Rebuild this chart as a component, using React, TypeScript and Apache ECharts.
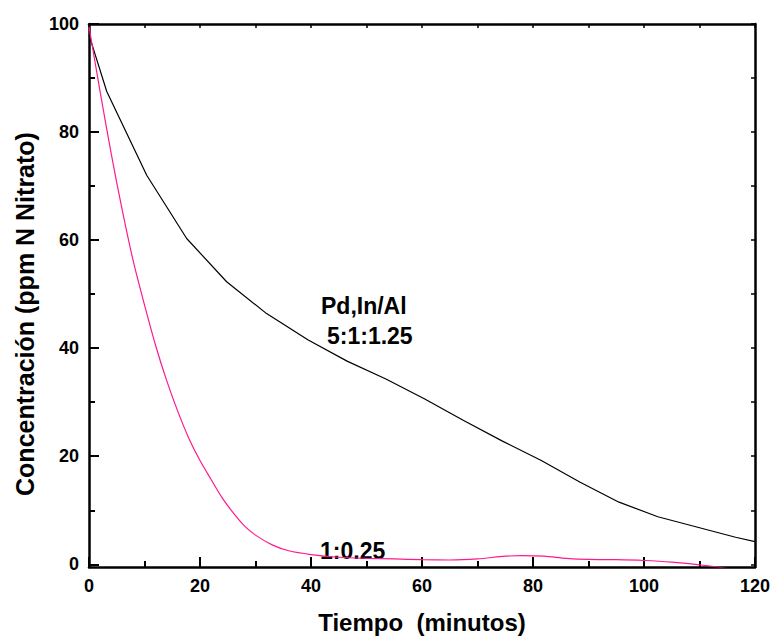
import React, { useEffect, useRef } from "react";
import * as echarts from "echarts";

// Pd,In/Al 5:1:1.25 (black)
const timeA = [0, 3.2, 10.4, 17.6, 24.8, 32, 39.5, 46.5, 53.5, 60.5, 67.5, 74.5, 81.5, 88.5, 95.5, 102.5, 109.5, 116.5, 120];
const concA = [98, 87.5, 72, 60.3, 52.3, 46.4, 41.5, 37.6, 34.3, 30.6, 26.6, 22.8, 19.2, 15.2, 11.5, 8.8, 6.9, 5.0, 4.2];

// 1:0.25 (pink)
const timeB = [0, 2, 4, 6, 8, 10, 12, 14, 16, 18, 20, 22, 24, 26, 28, 30, 33, 36, 40, 45, 50, 55, 60, 65, 70, 75, 78, 82, 86, 90, 95, 100, 105, 110, 114, 118, 120];
const concB = [99.5, 87.5, 76, 65.5, 56, 48, 40.5, 34, 28.3, 23.3, 19.2, 15.7, 12.3, 9.5, 7.1, 5.4, 3.6, 2.5, 1.8, 1.3, 1.1, 1.0, 0.85, 0.8, 1.0, 1.5, 1.6, 1.5, 1.1, 0.9, 0.85, 0.7, 0.4, -0.1, -0.6, -1.4, -1.9];

const yMajorTicks = [0, 20, 40, 60, 80, 100];
const yMinorTicks = [10, 30, 50, 70, 90];
const yAllTicks = [0, 10, 20, 30, 40, 50, 60, 70, 80, 90, 100];

const labelSeriesA1 = "Pd,In/Al";
const labelSeriesA2 = "5:1:1.25";
const labelSeriesB = "1:0.25";

const FONT = "Arial, 'Liberation Sans', Helvetica, sans-serif";

export default function App() {
  const ref = useRef<HTMLDivElement>(null);
  useEffect(() => {
    if (!ref.current) return;
    const chart = echarts.init(ref.current, undefined, { renderer: "svg" });
    const axisLine = { show: true, onZero: false, lineStyle: { color: "#000", width: 2.5 } };
    const option: any = {
      animation: false,
      backgroundColor: "#fff",
      grid: { left: 89, right: 18, top: 24, bottom: 73, containLabel: false },
      xAxis: [
        {
          type: "value",
          position: "bottom",
          min: 0,
          max: 120,
          interval: 20,
          axisLine,
          axisTick: { show: true, inside: true, length: 10, lineStyle: { color: "#000", width: 2 } },
          minorTick: { show: true, splitNumber: 2, length: 6, lineStyle: { color: "#000", width: 2 } },
          axisLabel: { color: "#000", fontSize: 18, fontWeight: "bold", fontFamily: FONT, margin: 10 },
          splitLine: { show: false },
          name: "Tiempo  (minutos)",
          nameLocation: "middle",
          nameGap: 43,
          nameTextStyle: { color: "#000", fontSize: 24, fontWeight: "bold", fontFamily: FONT },
        },
        {
          type: "value",
          position: "top",
          min: 0,
          max: 120,
          interval: 10,
          axisLine,
          axisTick: { show: true, inside: true, length: 4, lineStyle: { color: "#000", width: 1.5 } },
          axisLabel: { show: false },
          splitLine: { show: false },
        },
      ],
      yAxis: [
        {
          type: "value",
          position: "left",
          min: -0.5,
          max: 100,
          axisLine,
          axisTick: { show: true, inside: true, length: 10, customValues: yMajorTicks, lineStyle: { color: "#000", width: 2 } },
          axisLabel: { color: "#000", fontSize: 18, fontWeight: "bold", fontFamily: FONT, margin: 10, customValues: yMajorTicks },
          splitLine: { show: false },
        },
        {
          type: "value",
          position: "left",
          min: -0.5,
          max: 100,
          axisLine: { show: false, onZero: false },
          axisTick: { show: true, inside: true, length: 6, customValues: yMinorTicks, lineStyle: { color: "#000", width: 2 } },
          axisLabel: { show: false },
          splitLine: { show: false },
        },
        {
          type: "value",
          position: "right",
          min: -0.5,
          max: 100,
          axisLine,
          axisTick: { show: true, inside: true, length: 4, customValues: yAllTicks, lineStyle: { color: "#000", width: 1.5 } },
          axisLabel: { show: false },
          splitLine: { show: false },
        },
      ],
      series: [
        {
          type: "line",
          xAxisIndex: 0,
          yAxisIndex: 0,
          data: timeA.map((t, i) => [t, concA[i]]),
          showSymbol: false,
          symbol: "none",
          smooth: false,
          clip: true,
          lineStyle: { color: "#000", width: 1.2 },
        },
        {
          type: "line",
          xAxisIndex: 0,
          yAxisIndex: 0,
          data: timeB.map((t, i) => [t, concB[i]]),
          showSymbol: false,
          symbol: "none",
          smooth: 0.3,
          clip: true,
          lineStyle: { color: "#ff1a8c", width: 1.2 },
        },
      ],
      graphic: [
        {
          type: "text",
          x: 25,
          y: 314,
          rotation: Math.PI / 2,
          style: {
            text: "Concentración (ppm N Nitrato)",
            fill: "#000",
            font: `bold 25px ${FONT}`,
            align: "center",
            verticalAlign: "middle",
          },
        },
        {
          type: "text",
          x: 321,
          y: 306,
          style: { text: labelSeriesA1, fill: "#000", font: `bold 23px ${FONT}`, align: "left", verticalAlign: "middle" },
        },
        {
          type: "text",
          x: 327,
          y: 335.5,
          style: { text: labelSeriesA2, fill: "#000", font: `bold 23px ${FONT}`, align: "left", verticalAlign: "middle" },
        },
        {
          type: "text",
          x: 320,
          y: 551,
          style: { text: labelSeriesB, fill: "#000", font: `bold 23px ${FONT}`, align: "left", verticalAlign: "middle" },
        },
      ],
    };
    chart.setOption(option);
    return () => chart.dispose();
  }, []);
  return <div ref={ref} style={{ width: 773, height: 640, position: "absolute", left: 0, top: 0 }} />;
}
